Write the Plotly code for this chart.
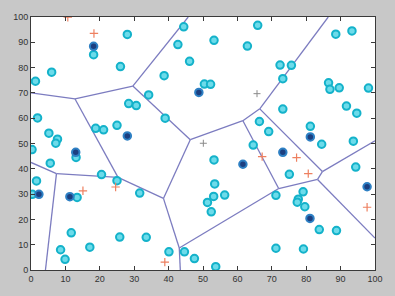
import plotly.graph_objects as go

# Voronoi vertices (data coords)
vx = [0.0, 12.8, 29.6, 45.7, 46.3, 61.6, 66.5, 86.4, 84.7, 100.0, 83.3, 100.0, 72.0, 43.1, 43.4, 38.5, 25.3, 7.4, 0.0, 4.2]
vy = [70.0, 67.6, 72.7, 100.0, 51.5, 59.0, 63.7, 100.0, 38.9, 51.1, 35.8, 12.6, 32.2, 8.7, 0.0, 28.3, 36.6, 38.1, 42.5, 0.0]
# edges as vertex index pairs
edge_a = [0, 1, 2, 2, 1, 16, 17, 17, 16, 15, 15, 13, 13, 4, 5, 5, 6, 6, 8, 8, 10, 10]
edge_b = [1, 2, 3, 4, 16, 17, 18, 19, 15, 4, 13, 14, 12, 5, 6, 12, 7, 8, 9, 10, 12, 11]

# sensor nodes (cyan)
cx = [1.3, 6.0, 18.2, 28.0, 26.0, 44.4, 42.7, 46.1, 38.7, 34.2, 28.4, 30.6, 39.0, 1.9, 18.8, 21.1, 25.0,
      5.2, 7.7, 7.2, 0.3, 13.1, 5.6, 1.6, 0.4, 13.4, 20.5, 25.0, 31.6, 11.7, 17.1, 8.6, 9.9, 25.8, 33.5,
      40.1, 44.6, 47.5, 53.7, 65.9, 53.2, 62.9, 72.4, 75.7, 73.2, 50.4, 52.2, 88.6, 93.3, 86.5, 86.9,
      89.6, 98.1, 91.7, 94.7, 73.2, 66.4, 69.1, 64.6, 81.2, 84.5, 93.7, 53.2, 75.1, 94.4, 53.4, 56.3,
      53.1, 51.3, 52.4, 71.2, 79.1, 77.7, 77.4, 79.6, 83.8, 88.8, 71.2, 79.2]
cy = [74.6, 78.2, 85.1, 93.1, 80.4, 96.1, 89.1, 82.5, 76.8, 69.2, 65.8, 65.0, 60.0, 60.1, 56.0, 55.4, 57.2,
      54.1, 51.7, 50.1, 47.6, 44.5, 42.2, 35.2, 29.9, 28.7, 37.7, 35.3, 30.4, 14.7, 9.0, 8.0, 4.2, 13.0, 12.9,
      7.2, 7.2, 4.5, 1.3, 96.7, 90.8, 88.5, 81.0, 80.9, 75.6, 73.5, 73.4, 93.2, 94.5, 74.0, 71.4,
      72.0, 71.9, 64.8, 62.0, 63.6, 58.7, 54.7, 49.4, 56.8, 49.7, 50.9, 43.5, 37.8, 40.7, 34.0, 29.6,
      29.1, 26.7, 23.0, 29.5, 30.9, 28.0, 26.8, 25.0, 16.0, 15.6, 8.6, 8.3]

# dark nodes
dx = [18.2, 48.8, 28.0, 13.0, 2.3, 11.3, 81.2, 73.2, 61.6, 97.7, 81.1]
dy = [88.4, 70.2, 53.0, 46.5, 29.9, 29.0, 52.6, 46.5, 41.8, 32.9, 20.4]

# red plus markers
rx = [10.7, 18.3, 15.1, 24.6, 38.9, 67.2, 77.2, 80.6, 97.7]
ry = [99.9, 93.5, 31.3, 32.8, 3.1, 44.8, 44.4, 38.1, 24.8]
# faint gray plus markers
gx = [65.7, 50.1]
gy = [69.7, 50.1]

ticks = list(range(0, 101, 10))

lx, ly = [], []
for a, b in zip(edge_a, edge_b):
    lx += [vx[a], vx[b], None]
    ly += [vy[a], vy[b], None]

fig = go.Figure()
fig.add_trace(go.Scatter(x=lx, y=ly, mode="lines", line=dict(color="#7c7cc0", width=1.3),
                         hoverinfo="skip"))
fig.add_trace(go.Scatter(x=cx, y=cy, mode="markers",
                         marker=dict(size=7.5, color="#6cdbea", line=dict(color="#14b2ca", width=2))))
fig.add_trace(go.Scatter(x=dx, y=dy, mode="markers",
                         marker=dict(size=7.5, color="#1c3f80", line=dict(color="#2e80c4", width=2))))
fig.add_trace(go.Scatter(x=rx, y=ry, mode="markers",
                         marker=dict(symbol="cross-thin", size=6, line=dict(color="#ee8060", width=1.2))))
fig.add_trace(go.Scatter(x=gx, y=gy, mode="markers",
                         marker=dict(symbol="cross-thin", size=5, line=dict(color="#8a8a8a", width=1))))

axis_common = dict(range=[0, 100], tickvals=ticks, showgrid=False, zeroline=False,
                   showline=True, linecolor="#3a3a3a", linewidth=1, mirror="ticks",
                   ticks="inside", ticklen=4, tickcolor="#3a3a3a",
                   tickfont=dict(family="Liberation Sans", size=9, color="#333333"))
fig.update_layout(
    width=395, height=296, showlegend=False,
    margin=dict(l=31, r=17, t=16, b=26),
    paper_bgcolor="#c8c8c8", plot_bgcolor="#ffffff",
    xaxis=dict(**axis_common),
    yaxis=dict(**axis_common),
)
fig.write_html("out.html")
